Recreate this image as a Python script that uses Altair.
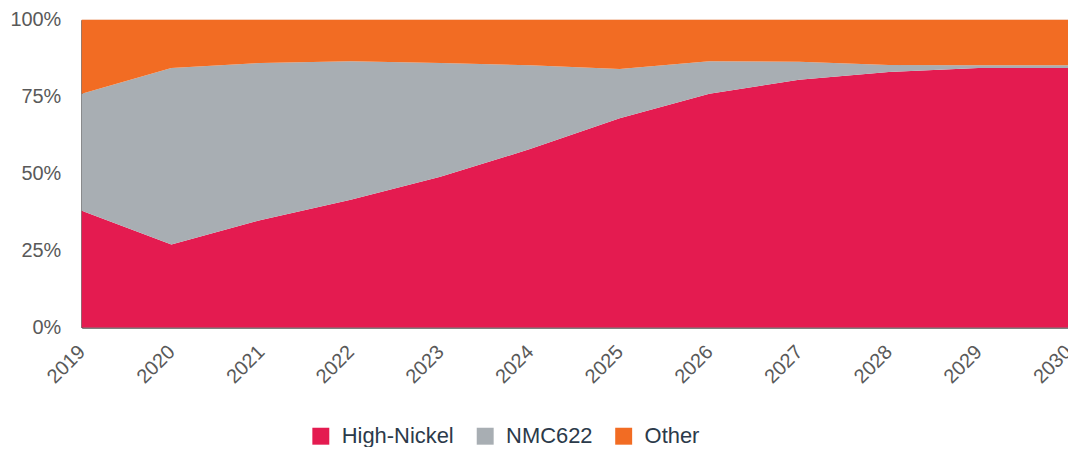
import altair as alt
import pandas as pd

years = [2019, 2020, 2021, 2022, 2023, 2024, 2025, 2026, 2027, 2028, 2029, 2030]
high_nickel = [38.0, 27.0, 35.0, 41.5, 49.0, 58.0, 68.0, 76.0, 80.5, 83.0, 84.3, 84.3]
nmc622 = [38.0, 57.3, 51.0, 45.0, 37.0, 27.2, 16.0, 10.5, 5.9, 2.3, 0.9, 0.9]
other = [24.0, 15.7, 14.0, 13.5, 14.0, 14.8, 16.0, 13.5, 13.6, 14.7, 14.8, 14.8]

series_names = ["High-Nickel", "NMC622", "Other"]
series_colors = ["#E41B50", "#A8AEB3", "#F26C23"]

rows = []
for i, y in enumerate(years):
    for k, (name, vals) in enumerate(zip(series_names, [high_nickel, nmc622, other])):
        rows.append({"year": y, "series": name, "value": vals[i] / 100.0, "order": k})
df = pd.DataFrame(rows)

chart = alt.Chart(df).mark_area(opacity=1).encode(
    x=alt.X("year:Q", scale=alt.Scale(domain=[2019, 2030], nice=False, zero=False),
            axis=alt.Axis(values=years, format="d", labelAngle=-45, labelAlign="right",
                          labelBaseline="middle", labelPadding=21, labelFontSize=20,
                          labelColor="#595959", labelFont="Liberation Sans",
                          ticks=False, grid=False, domainColor="#7f7f7f",
                          domainWidth=2, title=None, labelOverlap=False, labelFlush=False)),
    y=alt.Y("value:Q", stack="zero", scale=alt.Scale(domain=[0, 1], nice=False),
            axis=alt.Axis(values=[0, 0.25, 0.5, 0.75, 1.0], format=".0%", labelFontSize=20,
                          labelColor="#595959", labelFont="Liberation Sans",
                          ticks=False, grid=False, domainColor="#595959", domainWidth=2,
                          labelPadding=21, title=None)),
    color=alt.Color("series:N", scale=alt.Scale(domain=series_names, range=series_colors),
                    legend=alt.Legend(title=None, orient="none", direction="horizontal",
                                      legendX=229, legendY=407, symbolType="square",
                                      symbolSize=289, symbolStrokeWidth=0,
                                      labelFontSize=22, labelFont="Liberation Sans",
                                      labelColor="#2B3A4A", columnPadding=20,
                                      labelOffset=10)),
    order=alt.Order("order:Q", sort="ascending"),
).properties(
    width=990, height=309,
    autosize=alt.AutoSizeParams(type="none"),
    padding={"left": 74, "top": 11, "right": 0, "bottom": 119},
).configure_view(stroke="#d9d9d9", strokeWidth=1)

chart.save("out.html", embed_options={"renderer": "svg", "actions": False})
